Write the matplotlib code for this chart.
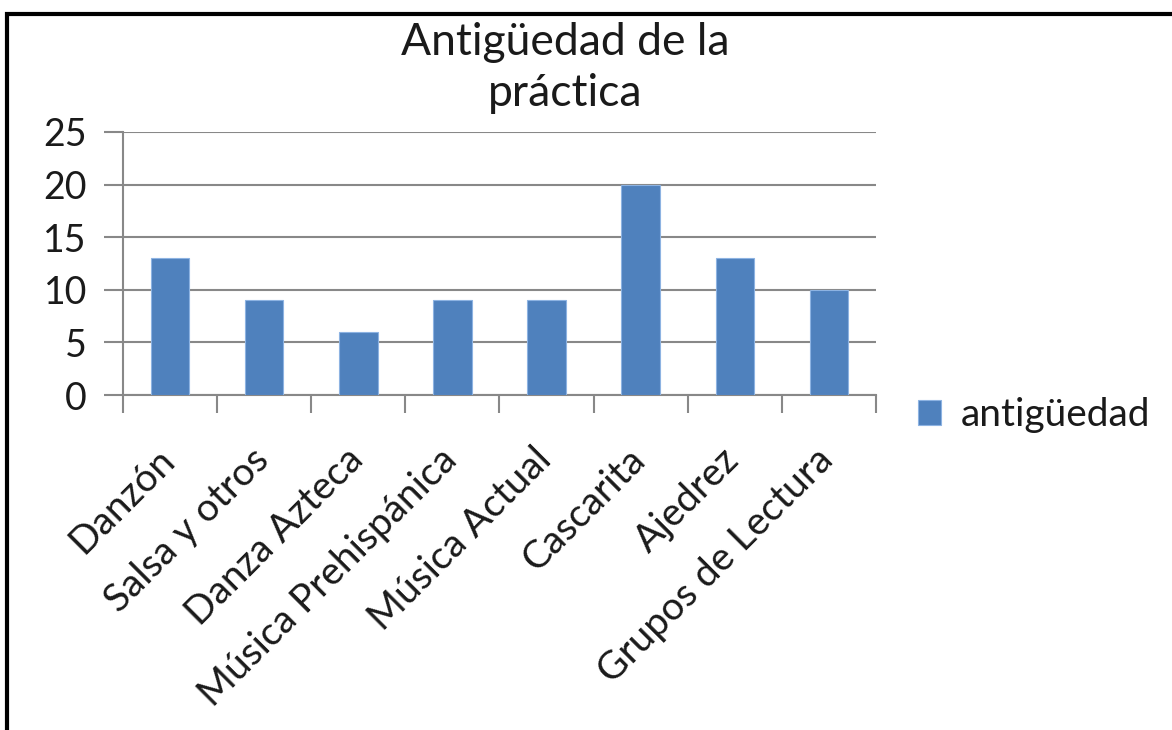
import matplotlib.pyplot as plt
import matplotlib.transforms as mtransforms
from matplotlib.patches import Rectangle

categorias = ['Danzón', 'Salsa y otros', 'Danza Azteca', 'Música Prehispánica',
              'Música Actual', 'Cascarita', 'Ajedrez', 'Grupos de Lectura']
antiguedad = [13, 9, 6, 9, 9, 20, 13, 10]
yticks = [0, 5, 10, 15, 20, 25]

plt.rcParams['font.family'] = ['Lato', 'DejaVu Sans']
fig = plt.figure(figsize=(11.72, 7.3), dpi=100)
ax = fig.add_axes([123/1172, 1-395/730, (876-123)/1172, (395-132)/730])

x = range(len(categorias))
ax.bar(x, antiguedad, width=0.41, color='#4f81bd', edgecolor='#8db3e2', lw=0.8,
       label='antigüedad', zorder=3)

ax.set_xlim(-0.5, len(categorias)-0.5)
ax.set_ylim(0, 25)
ax.set_yticks(yticks)
ax.set_yticklabels([str(v) for v in yticks], fontsize=27, color='#1a1a1a')
ax.grid(axis='y', color='#888888', lw=1.5, zorder=0)
ax.set_xticks([i - 0.5 for i in range(len(categorias)+1)], minor=False)
ax.set_xticklabels([])
ax.set_xticks(list(x), minor=True)
ax.set_xticklabels(categorias, minor=True, rotation=45, ha='right',
                   rotation_mode='anchor', fontsize=28, color='#1a1a1a')
ax.tick_params(axis='x', which='minor', length=0, pad=30)
ax.tick_params(axis='x', which='major', length=13, width=1.5, color='#888888', direction='out')
ax.tick_params(axis='y', length=14, width=1.5, color='#888888', pad=12)
desplaza = mtransforms.ScaledTranslation(-14/100, -5/100, fig.dpi_scale_trans)
for lbl in ax.get_xticklabels(minor=True):
    lbl.set_transform(lbl.get_transform() + desplaza)
for s in ['top', 'right']:
    ax.spines[s].set_visible(False)
ax.spines['left'].set_color('#888888')
ax.spines['left'].set_linewidth(1.5)
ax.spines['bottom'].set_color('#888888')
ax.spines['bottom'].set_linewidth(1.5)

fig.text(565/1172, 1-68/730, 'Antigüedad de la\npráctica', ha='center', va='center',
         fontsize=32, color='#1a1a1a', linespacing=1.3)

ax.legend(loc='center left', bbox_to_anchor=(883/1172, 1-415/730),
          bbox_transform=fig.transFigure, frameon=False, fontsize=28,
          handlelength=0.6, handleheight=0.6, handletextpad=0.5, labelcolor='#1a1a1a')

# marco de la figura
fig.patches.append(Rectangle((7/1172, -0.1), 1.2, 1 - 14/730 + 0.1, transform=fig.transFigure,
                             fill=False, edgecolor='black', lw=3))

fig.savefig('out.png', dpi=100)
